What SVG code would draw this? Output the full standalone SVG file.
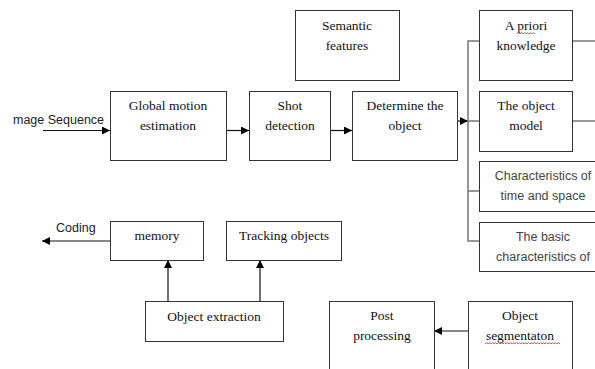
<svg xmlns="http://www.w3.org/2000/svg" width="595" height="369" viewBox="0 0 595 369">
<defs>
<marker id="ah" viewBox="0 0 10 10" refX="10" refY="5" markerWidth="8" markerHeight="8" markerUnits="userSpaceOnUse" orient="auto">
<path d="M0,0 L10,5 L0,10 Z" fill="#000"/>
</marker>
<style>
.box{fill:#fff;stroke:#333;stroke-width:1}
.t{font-family:"Liberation Serif","Times New Roman",serif;font-size:13.5px;fill:#111;text-anchor:middle}
.s{font-family:"Liberation Sans",Arial,sans-serif;font-size:12.5px;fill:#222}
.g{font-family:"Liberation Sans",Arial,sans-serif;font-size:12.5px;fill:#444;text-anchor:middle}
.c{fill:none;stroke:#111;stroke-width:1.2}
.bus{fill:none;stroke:#777;stroke-width:1.5}
.wave{fill:none;stroke:#e03030;stroke-width:0.8}
</style>
</defs>
<rect width="595" height="369" fill="#fff"/>

<g id="connectors">
<line class="c" x1="43" y1="130.5" x2="110" y2="130.5" marker-end="url(#ah)"/>
<line class="c" x1="226" y1="130.5" x2="249" y2="130.5" marker-end="url(#ah)"/>
<line class="c" x1="330" y1="130.5" x2="352" y2="130.5" marker-end="url(#ah)"/>
<line class="c" x1="457" y1="121" x2="468" y2="121" marker-end="url(#ah)"/>
<path class="bus" d="M479,41 H468 V241 H479 M468,121 H479 M468,191 H479"/>
<path class="bus" d="M572,41 H595 M572,121 H595"/>
<line class="c" x1="110" y1="241" x2="42" y2="241" marker-end="url(#ah)"/>
<line class="c" x1="168" y1="301" x2="168" y2="260" marker-end="url(#ah)"/>
<line class="c" x1="260" y1="301" x2="260" y2="260" marker-end="url(#ah)"/>
<line class="c" x1="468" y1="331" x2="434" y2="331" stroke="#555" marker-end="url(#ah)"/>
</g>

<text class="s" x="13" y="124">mage Sequence</text>
<text class="s" x="56" y="232">Coding</text>

<g id="global-motion">
<rect class="box" x="110.5" y="91.5" width="116" height="69"/>
<text class="t" x="168" y="110">Global motion</text>
<text class="t" x="168" y="130">estimation</text>
</g>
<g id="shot-detection">
<rect class="box" x="249.5" y="91.5" width="81" height="69"/>
<text class="t" x="290" y="110">Shot</text>
<text class="t" x="290" y="130">detection</text>
</g>
<g id="determine-object">
<rect class="box" x="352.5" y="91.5" width="105" height="69"/>
<text class="t" x="405" y="110">Determine the</text>
<text class="t" x="405" y="130">object</text>
</g>
<g id="semantic-features">
<rect class="box" x="295.5" y="10.5" width="104" height="70"/>
<text class="t" x="347" y="30">Semantic</text>
<text class="t" x="347" y="50">features</text>
</g>
<g id="a-priori">
<rect class="box" x="479.5" y="10.5" width="93" height="70"/>
<text class="t" x="526" y="30">A priori</text>
<text class="t" x="526" y="50">knowledge</text>
<path class="wave" d="M517,34 l1.5,-1.5 l1.5,1.5 l1.5,-1.5 l1.5,1.5 l1.5,-1.5 l1.5,1.5 l1.5,-1.5 l1.5,1.5 l1.5,-1.5 l1.5,1.5 l1.5,-1.5 l1.5,1.5"/>
</g>
<g id="object-model">
<rect class="box" x="479.5" y="91.5" width="93" height="60"/>
<text class="t" x="526" y="110">The object</text>
<text class="t" x="526" y="130">model</text>
</g>
<g id="time-space">
<rect class="box" x="479.5" y="161.5" width="130" height="50"/>
<text class="g" x="543" y="180">Characteristics of</text>
<text class="g" x="543" y="200" fill="#333">time and space</text>
</g>
<g id="basic-characteristics">
<rect class="box" x="479.5" y="222.5" width="130" height="49"/>
<text class="g" x="543" y="241">The basic</text>
<text class="g" x="543" y="261">characteristics of</text>
</g>
<g id="memory">
<rect class="box" x="110.5" y="221.5" width="93" height="39"/>
<text class="t" x="157" y="240">memory</text>
</g>
<g id="tracking-objects">
<rect class="box" x="226.5" y="221.5" width="115" height="39"/>
<text class="t" x="284" y="240">Tracking objects</text>
</g>
<g id="object-extraction">
<rect class="box" x="145.5" y="301.5" width="138" height="40"/>
<text class="t" x="214" y="321">Object extraction</text>
</g>
<g id="post-processing">
<rect class="box" x="329.5" y="301.5" width="105" height="80"/>
<text class="t" x="382" y="320">Post</text>
<text class="t" x="382" y="340">processing</text>
</g>
<g id="object-segmentation">
<rect class="box" x="468.5" y="301.5" width="104" height="80"/>
<text class="t" x="520" y="320">Object</text>
<text class="t" x="520" y="340">segmentaton</text>
<path class="wave" d="M485,344 l1.5,-1.5 l1.5,1.5 l1.5,-1.5 l1.5,1.5 l1.5,-1.5 l1.5,1.5 l1.5,-1.5 l1.5,1.5 l1.5,-1.5 l1.5,1.5 l1.5,-1.5 l1.5,1.5 l1.5,-1.5 l1.5,1.5 l1.5,-1.5 l1.5,1.5 l1.5,-1.5 l1.5,1.5 l1.5,-1.5 l1.5,1.5 l1.5,-1.5 l1.5,1.5 l1.5,-1.5 l1.5,1.5 l1.5,-1.5 l1.5,1.5 l1.5,-1.5 l1.5,1.5 l1.5,-1.5 l1.5,1.5 l1.5,-1.5 l1.5,1.5 l1.5,-1.5 l1.5,1.5 l1.5,-1.5 l1.5,1.5 l1.5,-1.5 l1.5,1.5 l1.5,-1.5 l1.5,1.5 l1.5,-1.5 l1.5,1.5 l1.5,-1.5 l1.5,1.5 l1.5,-1.5 l1.5,1.5 l1.5,-1.5 l1.5,1.5 l1.5,-1.5 l1.5,1.5"/>
</g>
</svg>
